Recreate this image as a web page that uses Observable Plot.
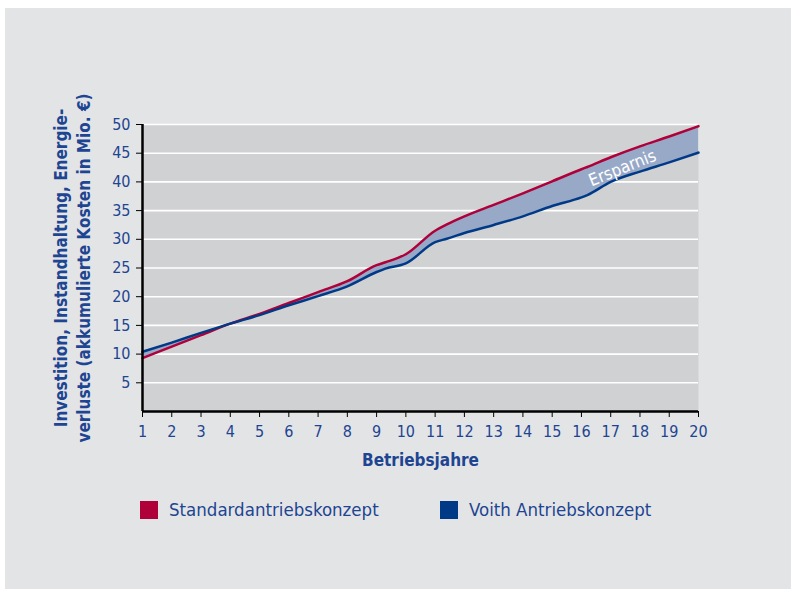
<!DOCTYPE html>
<html>
<head>
<meta charset="utf-8">
<script src="https://cdn.jsdelivr.net/npm/d3@7"></script>
<script src="https://cdn.jsdelivr.net/npm/@observablehq/plot@0.6"></script>
<style>
  html, body { margin: 0; padding: 0; background: #ffffff; }
  #panel { position: absolute; left: 5px; top: 8px; width: 786px; height: 581px; background: #e3e4e6; }
  #chart { position: absolute; left: 0; top: 0; }
  #legend { position: absolute; left: 0; top: 499px; width: 795px; height: 30px;
    font-family: "DejaVu Sans Condensed", "DejaVu Sans", sans-serif; font-stretch: condensed; font-size: 18.5px; color: #1d4591; }
  .item { position: absolute; top: 0; display: flex; align-items: center; }
  .sw { width: 18px; height: 18px; margin-right: 11px; }
</style>
</head>
<body>
<div id="panel"></div>
<div id="chart"></div>
<div id="legend"></div>
<script>
const years = [1, 2, 3, 4, 5, 6, 7, 8, 9, 9.3, 10, 11, 11.4, 12, 13, 14, 15, 16, 16.2, 17, 18, 19, 20];
const standard = [9.3, 11.3, 13.3, 15.3, 17.0, 18.9, 20.8, 22.7, 25.5, 26.0, 27.4, 31.5, 32.6, 34.0, 36.0, 38.0, 40.1, 42.2, 42.6, 44.3, 46.2, 47.9, 49.7];
const voith = [10.4, 12.0, 13.7, 15.3, 16.8, 18.5, 20.1, 21.8, 24.3, 24.9, 25.8, 29.5, 30.1, 31.1, 32.5, 34.0, 35.8, 37.3, 37.7, 40.0, 41.8, 43.4, 45.1];
const yTicks = [5, 10, 15, 20, 25, 30, 35, 40, 45, 50];
const xTicks = d3.range(1, 21);
const seriesNames = ["Standardantriebskonzept", "Voith Antriebskonzept"];
const seriesColors = ["#b0003a", "#003a87"];
const yTitle = "Investition, Instandhaltung, Energie-\nverluste (akkumulierte Kosten in Mio. €)";
const xTitle = "Betriebsjahre";
const areaLabel = "Ersparnis";

const data = years.map((x, i) => ({x, standard: standard[i], voith: voith[i]}));
const textBlue = "#1d4591";
const font = "'DejaVu Sans Condensed', 'DejaVu Sans', sans-serif";

const chart = Plot.plot({
  width: 795,
  height: 480,
  marginTop: 124,
  marginBottom: 69,
  marginLeft: 142,
  marginRight: 97,
  style: {background: "transparent", fontFamily: font, fontStretch: "condensed", overflow: "visible"},
  x: {domain: [1, 20]},
  y: {domain: [0, 50]},
  marks: [
    Plot.frame({fill: "#d0d1d3", stroke: null}),
    Plot.ruleY(yTicks, {stroke: "white", strokeWidth: 1.6}),
    Plot.areaY(data, {x: "x", y1: "voith", y2: "standard", fill: "#98a9c8", curve: "monotone-x"}),
    Plot.lineY(data, {x: "x", y: "standard", stroke: seriesColors[0], strokeWidth: 2.5, curve: "monotone-x"}),
    Plot.lineY(data, {x: "x", y: "voith", stroke: seriesColors[1], strokeWidth: 2.5, curve: "monotone-x"}),
    Plot.text([areaLabel], {x: 17.4, y: 42.4, text: d => d, rotate: -22, fill: "white", fontSize: 17}),
    Plot.ruleX([1], {stroke: "black", strokeWidth: 2.5}),
    Plot.ruleY([0], {stroke: "black", strokeWidth: 2.5}),
    Plot.axisY({ticks: yTicks, tickSize: 6, tickPadding: 6, stroke: "black", fill: textBlue, fontSize: 16, label: null, tickFormat: d => d}),
    Plot.axisX({ticks: xTicks, tickSize: 6, tickPadding: 8, stroke: "black", fill: textBlue, fontSize: 16, label: null, tickFormat: d => d}),
    Plot.text([yTitle], {frameAnchor: "left", dx: -71, rotate: -90, textAnchor: "middle", lineAnchor: "middle", text: d => d, fill: textBlue, fontSize: 17, fontWeight: "bold", lineHeight: 1.35}),
    Plot.text([xTitle], {frameAnchor: "bottom", dy: 54, text: d => d, fill: textBlue, fontSize: 17, fontWeight: "bold"})
  ]
});
document.getElementById("chart").appendChild(chart);

const legend = document.getElementById("legend");
const lefts = [140, 440];
seriesNames.forEach((name, i) => {
  const item = document.createElement("div");
  item.className = "item";
  item.style.left = lefts[i] + "px";
  const sw = document.createElement("div");
  sw.className = "sw";
  sw.style.background = seriesColors[i];
  const label = document.createElement("span");
  label.textContent = name;
  item.appendChild(sw);
  item.appendChild(label);
  legend.appendChild(item);
});
</script>
</body>
</html>
